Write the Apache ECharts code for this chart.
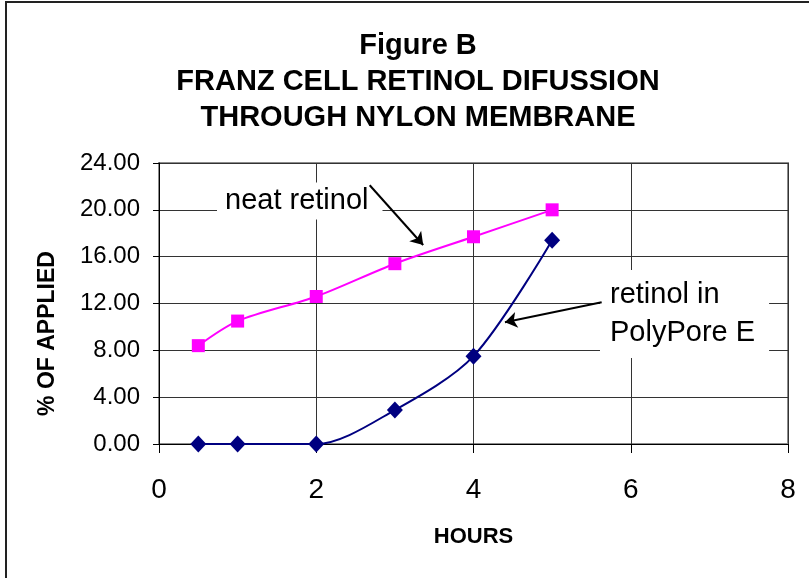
<!DOCTYPE html>
<html>
<head>
    <meta charset="utf-8">
    <title>Figure B</title>
    <script src="https://cdn.jsdelivr.net/npm/echarts@6/dist/echarts.min.js"></script>
    <style>
        html, body { margin: 0; padding: 0; background: #fff; }
        #chart { width: 809px; height: 578px; }
    </style>
</head>
<body>
<div id="chart"></div>
<script type="text/javascript">
    // hours
    var hours = [0.5, 1, 2, 3, 4, 5];
    // % of applied
    var neatRetinol = [8.4, 10.5, 12.6, 15.4, 17.7, 20.0];
    var polyPoreE = [0.0, 0.0, 0.0, 2.9, 7.5, 17.4];
    var xTicks = [0, 2, 4, 6, 8];
    var yTicks = [0, 4, 8, 12, 16, 20, 24];
    // annotation arrows, in data units [from, to]
    var neatArrow = [[2.68, 22.1], [3.36, 17.0]];
    var polyArrow = [[5.63, 12.1], [4.40, 10.4]];

    var font = '"Liberation Sans", Arial, sans-serif';

    function pairs(xs, ys) {
        return xs.map(function (x, i) { return [x, ys[i]]; });
    }

    function arrow(a) {
        return [{ coord: a[0] }, { coord: a[1] }];
    }

    var myChart = echarts.init(document.getElementById('chart'));
    myChart.setOption({
        backgroundColor: '#fff',
        animation: false,
        title: {
            text: 'Figure B\nFRANZ CELL RETINOL DIFUSSION\nTHROUGH NYLON MEMBRANE',
            left: 413,
            textAlign: 'center',
            top: 23,
            textStyle: {
                fontFamily: font,
                fontSize: 29,
                fontWeight: 'bold',
                color: '#000',
                lineHeight: 36
            }
        },
        grid: {
            left: 159,
            right: 21,
            top: 163,
            bottom: 134,
            show: true,
            borderColor: '#8c8c8c',
            borderWidth: 2
        },
        xAxis: {
            type: 'value',
            min: xTicks[0],
            max: xTicks[xTicks.length - 1],
            interval: 2,
            name: 'HOURS',
            nameLocation: 'middle',
            nameGap: 82,
            nameTextStyle: { fontFamily: font, fontSize: 22, fontWeight: 'bold', color: '#000' },
            axisLine: { onZero: false, lineStyle: { color: '#000', width: 1 } },
            axisTick: { show: true, length: 9, lineStyle: { color: '#000' } },
            axisLabel: { fontFamily: font, fontSize: 28, color: '#000', margin: 32 },
            splitLine: { show: true, lineStyle: { color: '#333', width: 1 } }
        },
        yAxis: {
            type: 'value',
            min: yTicks[0],
            max: yTicks[yTicks.length - 1],
            interval: 4,
            name: '% OF APPLIED',
            nameLocation: 'middle',
            nameGap: 100,
            nameRotate: 90,
            nameTextStyle: {
                fontFamily: font, fontSize: 23, fontWeight: 'bold', color: '#000',
                padding: [0, 60, 0, 0]
            },
            axisLine: { show: true, lineStyle: { color: '#000', width: 1 } },
            axisTick: { show: true, length: 6, lineStyle: { color: '#000' } },
            axisLabel: {
                fontFamily: font, fontSize: 24, color: '#000', margin: 19,
                formatter: function (v) { return v.toFixed(2); }
            },
            splitLine: { show: true, lineStyle: { color: '#333', width: 1 } }
        },
        series: [
            {
                name: 'neat retinol',
                type: 'line',
                data: pairs(hours, neatRetinol),
                smooth: 0.3,
                symbol: 'rect',
                symbolSize: 13,
                z: 3,
                lineStyle: { color: '#ff00ff', width: 2 },
                itemStyle: { color: '#ff00ff' },
                markLine: {
                    silent: true,
                    symbol: ['none', 'arrow'],
                    symbolSize: 12,
                    label: { show: false },
                    lineStyle: { color: '#000', width: 2, type: 'solid' },
                    data: [arrow(neatArrow)]
                }
            },
            {
                name: 'retinol in PolyPore E',
                type: 'line',
                data: pairs(hours, polyPoreE),
                smooth: 0.3,
                symbol: 'diamond',
                symbolSize: [16, 17],
                z: 3,
                lineStyle: { color: '#000080', width: 2 },
                itemStyle: { color: '#000080' },
                markLine: {
                    silent: true,
                    symbol: ['none', 'arrow'],
                    symbolSize: 12,
                    label: { show: false },
                    lineStyle: { color: '#000', width: 2, type: 'solid' },
                    data: [arrow(polyArrow)]
                }
            }
        ],
        graphic: [
            {
                type: 'rect',
                z: 10,
                silent: true,
                shape: { x: 6, y: 2, width: 900, height: 700 },
                style: { fill: 'none', stroke: '#222', lineWidth: 2 }
            },
            {
                type: 'text',
                z: 1,
                x: 217,
                y: 201,
                style: {
                    text: 'neat retinol',
                    font: '29px ' + font,
                    fill: '#000',
                    verticalAlign: 'middle',
                    backgroundColor: '#fff',
                    padding: [4, 14, 4, 8]
                }
            },
            {
                type: 'text',
                z: 1,
                x: 600,
                y: 314,
                style: {
                    text: 'retinol in\nPolyPore E',
                    font: '29px ' + font,
                    fill: '#000',
                    lineHeight: 38,
                    verticalAlign: 'middle',
                    backgroundColor: '#fff',
                    padding: [6, 14, 6, 10]
                }
            }
        ]
    });
</script>
</body>
</html>
